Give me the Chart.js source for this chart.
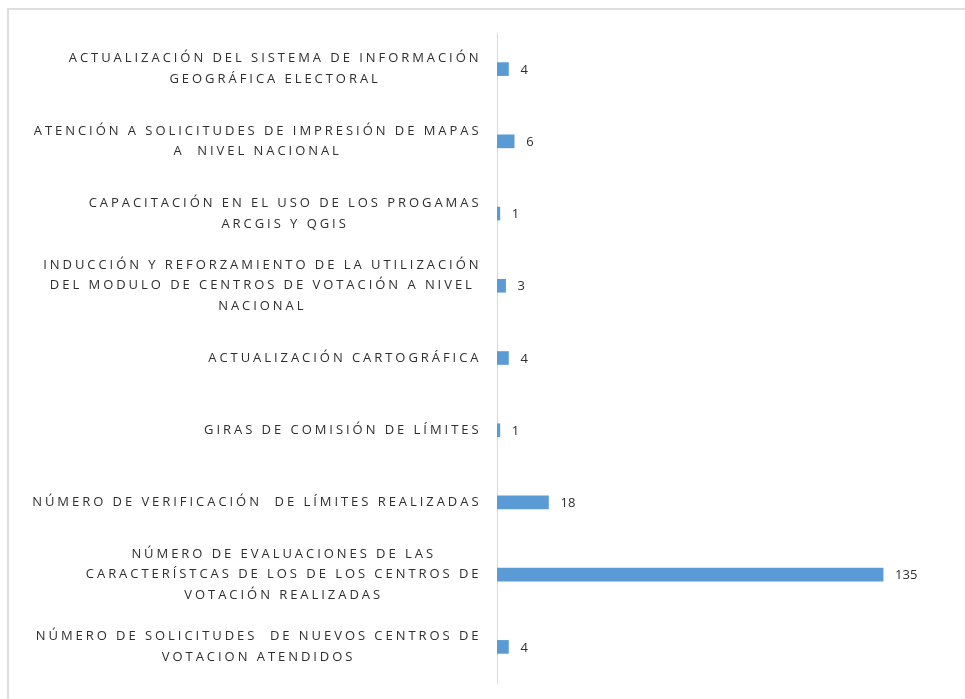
<!DOCTYPE html>
<html>
<head>
<meta charset="utf-8">
<script src="https://cdn.jsdelivr.net/npm/chart.js@4"></script>
<style>
  html, body { margin: 0; padding: 0; background: #fff; overflow: hidden; }
  #marco { position: absolute; left: 7px; top: 8px; width: 1000px; height: 760px; border: 2px solid #dedede; box-sizing: border-box; }
  #contenedor { position: absolute; left: 0; top: 0; width: 965px; height: 699px; }
</style>
</head>
<body>
<div id="marco"></div>
<div id="contenedor"><canvas id="grafico"></canvas></div>
<script>
// Categorias (una linea por elemento del arreglo)
const categorias = [
    ['ACTUALIZACIÓN DEL SISTEMA DE INFORMACIÓN', 'GEOGRÁFICA ELECTORAL'],
    ['ATENCIÓN A SOLICITUDES DE IMPRESIÓN DE MAPAS', 'A  NIVEL NACIONAL'],
    ['CAPACITACIÓN EN EL USO DE LOS PROGAMAS', 'ARCGIS Y QGIS'],
    ['INDUCCIÓN Y REFORZAMIENTO DE LA UTILIZACIÓN', 'DEL MODULO DE CENTROS DE VOTACIÓN A NIVEL', 'NACIONAL'],
    ['ACTUALIZACIÓN CARTOGRÁFICA'],
    ['GIRAS DE COMISIÓN DE LÍMITES'],
    ['NÚMERO DE VERIFICACIÓN  DE LÍMITES REALIZADAS'],
    ['NÚMERO DE EVALUACIONES DE LAS', 'CARACTERÍSTCAS DE LOS DE LOS CENTROS DE', 'VOTACIÓN REALIZADAS'],
    ['NÚMERO DE SOLICITUDES  DE NUEVOS CENTROS DE', 'VOTACION ATENDIDOS']
];

// Valores de cada barra
const valores = [4, 6, 1, 3, 4, 1, 18, 135, 4];

// Etiquetas del eje (una por categoria, texto plano)
const etiquetas = categorias.map(c => c.join(' '));

const colorBarra = '#5B9BD5';
const colorTexto = '#2e2e2e';

// Dibuja las etiquetas del eje Y: bloque alineado a la derecha, lineas centradas
const etiquetasEje = {
    id: 'etiquetasEje',
    afterDraw(chart) {
        const ctx = chart.ctx;
        const ejeY = chart.scales.y;
        const derecha = chart.chartArea.left - 17;
        ctx.save();
        ctx.font = '13px "Open Sans"';
        ctx.letterSpacing = '2.95px';
        ctx.fillStyle = colorTexto;
        ctx.textAlign = 'center';
        ctx.textBaseline = 'middle';
        categorias.forEach((lineas, i) => {
            const ancho = Math.max(...lineas.map(l => ctx.measureText(l).width));
            const cx = derecha - ancho / 2 + 1.5;
            const cy = ejeY.getPixelForTick(i);
            lineas.forEach((l, j) => {
                ctx.fillText(l, cx, cy + (j - (lineas.length - 1) / 2) * 20.8);
            });
        });
        ctx.restore();
    }
};

// Valores al final de cada barra
const valoresBarra = {
    id: 'valoresBarra',
    afterDatasetsDraw(chart) {
        const ctx = chart.ctx;
        const meta = chart.getDatasetMeta(0);
        ctx.save();
        ctx.font = '13px "Open Sans"';
        ctx.fillStyle = colorTexto;
        ctx.textAlign = 'left';
        ctx.textBaseline = 'middle';
        meta.data.forEach((barra, i) => {
            ctx.fillText(valores[i], barra.x + 12, barra.y + 1);
        });
        ctx.restore();
    }
};

const ctx = document.getElementById('grafico').getContext('2d');
const miGrafico = new Chart(ctx, {
    type: 'bar',
    data: {
        labels: etiquetas,
        datasets: [{
            data: valores,
            backgroundColor: colorBarra,
            barThickness: 13
        }]
    },
    options: {
        indexAxis: 'y',
        responsive: true,
        maintainAspectRatio: false,
        animation: false,
        layout: { padding: { top: 33, bottom: 16, right: 39, left: 0 } },
        plugins: {
            legend: { display: false },
            tooltip: { enabled: false }
        },
        scales: {
            x: {
                display: false,
                min: 0,
                max: 150
            },
            y: {
                grid: { display: false, drawTicks: false },
                border: { display: true, color: '#d9d9d9', width: 1 },
                ticks: { display: false },
                afterFit(scale) { scale.width = 497; }
            }
        }
    },
    plugins: [etiquetasEje, valoresBarra]
});
</script>
</body>
</html>
